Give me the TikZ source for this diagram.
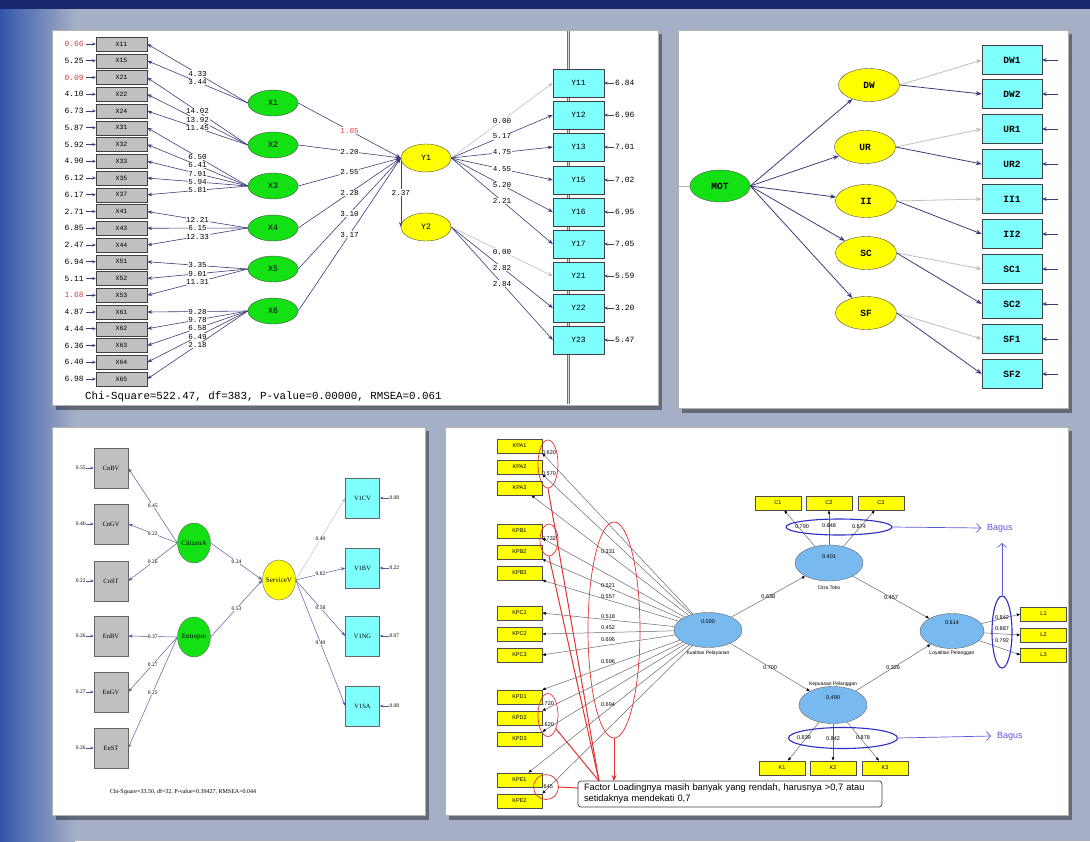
\documentclass[tikz,border=0pt]{standalone}
\usepackage{fontspec}
\setmainfont{Liberation Serif}
\newfontfamily\lmono{Liberation Mono}
\newfontfamily\larial{Liberation Sans}
\usetikzlibrary{shapes.geometric,arrows.meta,calc}
\pgfdeclarelayer{back}
\pgfdeclarelayer{edges}
\pgfsetlayers{back,edges,main}
\definecolor{bgc}{RGB}{165,175,198}
\definecolor{bgblue}{RGB}{50,85,170}
\definecolor{topnavy}{RGB}{25,40,110}
\definecolor{navy}{RGB}{30,30,110}
\definecolor{lisline}{RGB}{60,60,125}
\definecolor{bline}{RGB}{90,90,160}
\definecolor{lisgreen}{RGB}{20,225,20}
\definecolor{lisyellow}{RGB}{255,255,0}
\definecolor{liscyan}{RGB}{128,255,255}
\definecolor{lisgray}{RGB}{192,192,192}
\definecolor{lisred}{RGB}{215,60,60}
\definecolor{plsblue}{RGB}{120,185,240}
\definecolor{plsline}{RGB}{105,105,105}
\definecolor{annred}{RGB}{225,50,50}
\definecolor{annblue}{RGB}{45,45,200}
\definecolor{bagus}{RGB}{90,90,215}
\tikzset{
  panel/.style={fill=white, draw=black!30, line width=0.4pt},
  shadowbox/.style={fill=black, opacity=0.4},
  xbox/.style={draw=black!75, fill=lisgray, minimum width=51pt, minimum height=14pt, inner sep=0pt, font=\lmono\fontsize{6.5}{7}\selectfont},
  ybox/.style={draw=black!75, fill=liscyan, minimum width=51pt, minimum height=28pt, inner sep=0pt, font=\lmono\fontsize{8}{9}\selectfont},
  lat/.style={ellipse, draw=black!70, minimum width=50pt, minimum height=26pt, inner sep=0pt, font=\lmono\fontsize{8.3}{9}\selectfont},
  glat/.style={lat, fill=lisgreen},
  ylat/.style={lat, fill=lisyellow, minimum height=28pt},
  lval/.style={font=\lmono\fontsize{7.6}{8}\selectfont, fill=white, inner sep=0.6pt},
  errv/.style={font=\lmono\fontsize{8}{8}\selectfont, inner sep=0pt},
  lisarr/.style={draw=lisline, line width=0.6pt, -{Stealth[length=5pt,width=3.6pt]}},
  fixarr/.style={draw=black!25, line width=0.6pt, -{Stealth[length=5pt,width=3.6pt]}},
  mbox/.style={draw=black!75, fill=liscyan, minimum width=60pt, minimum height=29pt, inner sep=0pt, font=\lmono\bfseries\fontsize{9.5}{10}\selectfont},
  mlat/.style={ellipse, draw=black!70, minimum width=61pt, minimum height=33pt, inner sep=0pt, font=\lmono\bfseries\fontsize{9.5}{10}\selectfont},
  marr/.style={draw=lisline, line width=0.8pt, -{Stealth[length=6pt,width=4.5pt]}},
  mfix/.style={draw=black!25, line width=0.8pt, -{Stealth[length=6pt,width=4.5pt]}},
  bbox/.style={draw=black!60, fill=lisgray, minimum width=34pt, minimum height=40pt, inner sep=0pt, font=\fontsize{6.5}{7}\selectfont},
  blat/.style={ellipse, draw=black!60, minimum width=33pt, minimum height=40pt, inner sep=0pt, font=\fontsize{7}{7}\selectfont},
  bval/.style={font=\fontsize{5.5}{6}\selectfont, fill=white, inner sep=0.3pt},
  barr/.style={draw=bline, line width=0.5pt, -{Stealth[length=4.5pt,width=3.2pt]}},
  bfix/.style={draw=black!25, line width=0.5pt, -{Stealth[length=4.5pt,width=3.2pt]}},
  pbox/.style={draw=black!70, fill=lisyellow, minimum width=45pt, minimum height=14pt, inner sep=0pt, font=\larial\fontsize{5.5}{6}\selectfont},
  plat/.style={ellipse, draw=black!60, fill=plsblue, minimum width=68pt, minimum height=35pt, inner sep=0pt},
  parr/.style={draw=plsline, line width=0.5pt, -{Latex[length=3.5pt,width=3pt,color=black]}},
  ptxt/.style={font=\larial\fontsize{5.5}{6}\selectfont, inner sep=0pt},
  pname/.style={font=\larial\fontsize{5}{6}\selectfont, inner sep=0pt},
  redell/.style={ellipse, draw=annred, line width=0.7pt, inner sep=0pt},
  redline/.style={draw=annred, line width=1pt},
  blueell/.style={ellipse, draw=annblue, line width=1.1pt, inner sep=0pt},
  bluearr/.style={draw=bagus, line width=0.7pt, -{Straight Barb[length=4pt,width=9pt]}},
  bagustxt/.style={text=bagus, font=\larial\fontsize{9}{10}\selectfont, inner sep=0pt}
}
\begin{document}
\begin{tikzpicture}[x=1pt,y=-1pt]
\useasboundingbox (0,0) rectangle (1090,841);
\begin{pgfonlayer}{back}
\fill[bgc] (0,0) rectangle (1090,841);
\shade[left color=bgblue, right color=bgc] (0,0) rectangle (75,841);
\fill[topnavy] (0,0) rectangle (1090,9);
% panels
\fill[shadowbox] (56,34) rectangle (662,410);
\fill[panel] (52,30) rectangle (658,405);
\fill[shadowbox] (682,34) rectangle (1072,413);
\fill[panel] (678,30) rectangle (1068,408);
\fill[shadowbox] (56,431) rectangle (429,820);
\fill[panel] (52,427) rectangle (425,815);
\fill[shadowbox] (449,431) rectangle (1072,820);
\fill[panel] (445,427) rectangle (1068,815);
% vertical divider in LISREL panel
\coordinate (vt) at (568,31);
\coordinate (vb) at (568,404);
\draw[black!55, line width=3pt] (vt) -- (vb);
\draw[black!15, line width=1pt] (vt) -- (vb);
\end{pgfonlayer}

% ================= Panel 1 (LISREL) =================
\foreach \lab/\err/\c [count=\i from 0] in {X11/0.66/lisred, X15/5.25/black, X21/0.09/lisred, X22/4.10/black, X24/6.73/black, X31/5.87/black, X32/5.92/black, X33/4.90/black, X35/6.12/black, X37/6.17/black, X41/2.71/black, X43/6.85/black, X44/2.47/black, X51/6.94/black, X52/5.11/black, X53/1.68/lisred, X61/4.87/black, X62/4.44/black, X63/6.36/black, X64/6.40/black, X65/6.98/black}{
  \node[xbox] (xb\i) at (121.5,{44+16.75*\i}) {\lab};
  \node[errv, text=\c, anchor=east] (xe\i) at (84,{44+16.75*\i}) {\err};
  \draw[lisarr, -{Stealth[length=3.5pt,width=3pt]}] ([xshift=2pt]xe\i.east) -- (xb\i.west);
}
\foreach \n/\yy in {1/103,2/145,3/186,4/228,5/269,6/311}
  \node[glat] (lx\n) at (273,\yy) {X\n};
\node[ylat] (y1) at (426,158) {Y1};
\node[ylat] (y2) at (426,227) {Y2};
\foreach \lab/\yy/\err [count=\i] in {Y11/83/6.84, Y12/115/6.96, Y13/147/7.01, Y15/180/7.02, Y16/212/6.95, Y17/244/7.05, Y21/276/5.59, Y22/308/3.20, Y23/340/5.47}{
  \node[ybox] (yb\i) at (578.5,\yy) {\lab};
  \node[errv, anchor=west] (ye\i) at (615,\yy) {\err};
  \draw[lisarr, -{Stealth[length=3.5pt,width=3pt]}] ([xshift=-1pt]ye\i.west) -- (yb\i.east);
}
\begin{pgfonlayer}{edges}
\foreach \i/\n/\v in {0/1/4.33,1/1/3.44,2/2/14.02,3/2/13.92,4/2/11.45,5/3/6.50,6/3/6.41,7/3/7.91,8/3/5.94,9/3/5.81,10/4/12.21,11/4/6.15,12/4/12.33,13/5/3.35,14/5/9.01,15/5/11.31,16/6/9.28,17/6/9.78,18/6/6.58,19/6/6.49,20/6/2.18}
  \draw[lisarr] (lx\n.west) -- node[lval] (ll\i) {\v} (xb\i.east);
\foreach \n/\v/\c in {1/1.65/lisred,2/2.20/black,3/2.55/black,4/2.28/black,5/3.10/black,6/3.17/black}
  \draw[lisarr] (lx\n.east) -- node[lval,text=\c] (gm\n) {\v} (y1.west);
\draw[lisarr] (y1.west) -- node[lval] (g12) {2.37} (y2.west);
\draw[fixarr] (y1.east) -- node[lval] (ym1) {0.00} (yb1.west);
\foreach \i/\v in {2/5.17,3/4.75,4/4.55,5/5.20,6/2.21}
  \draw[lisarr] (y1.east) -- node[lval] (ym\i) {\v} (yb\i.west);
\draw[fixarr] (y2.east) -- node[lval] (ym7) {0.00} (yb7.west);
\foreach \i/\v in {8/2.82,9/2.84}
  \draw[lisarr] (y2.east) -- node[lval] (ym\i) {\v} (yb\i.west);
\end{pgfonlayer}
\node[font=\lmono\fontsize{10.8}{12}\selectfont, anchor=west, inner sep=0pt] (chi1) at (85,397) {Chi-Square=522.47, df=383, P-value=0.00000, RMSEA=0.061};

% ================= Panel 2 (MOT) =================
\node[mlat, fill=lisgreen, minimum width=60pt, minimum height=32pt] (mot) at (720,186) {MOT};
\foreach \nm/\lab/\xx/\yy in {dw/DW/869/85, ur/UR/865/147, ii/II/866/201, sc/SC/866/253, sf/SF/866/313}
  \node[mlat, fill=lisyellow] (\nm) at (\xx,\yy) {\lab};
\foreach \nm/\lab/\yy in {dw1/DW1/60, dw2/DW2/94, ur1/UR1/129, ur2/UR2/164, ii1/II1/199, ii2/II2/234, sc1/SC1/269, sc2/SC2/304, sf1/SF1/339, sf2/SF2/374}{
  \node[mbox] (\nm) at (1012,\yy) {\lab};
  \coordinate (\nm err) at (1058,\yy);
  \draw[marr, -{Stealth[length=4.5pt,width=4pt]}] (\nm err) -- (\nm.east);
}
\coordinate (motin) at (679,186);
\begin{pgfonlayer}{edges}
\draw[black!30, line width=0.6pt] (motin) -- (mot.west);
\foreach \nm in {dw,ur,ii,sc,sf}
  \draw[marr] (mot.east) -- (\nm);
\foreach \a/\b/\c in {dw/dw1/dw2, ur/ur1/ur2, ii/ii1/ii2, sc/sc1/sc2, sf/sf1/sf2}{
  \draw[mfix] (\a.east) -- (\b.west);
  \draw[marr] (\a.east) -- (\c.west);
}
\end{pgfonlayer}

% ================= Panel 3 (ServiceV) =================
\foreach \nm/\lab/\yy/\err in {cnbv/CnBV/468/0.55, cngv/CnGV/524/0.40, cnst/CnST/581/0.22, enbv/EnBV/636/0.26, engv/EnGV/692/0.27, enst/EnST/748/0.26}{
  \node[bbox] (\nm) at (111,\yy) {\lab};
  \node[bval, anchor=east, fill=none] (\nm err) at (86,\yy) {\err};
  \draw[barr, -{Stealth[length=3.5pt,width=3pt]}] (\nm err.east) -- (\nm.west);
}
\foreach \nm/\lab/\yy/\err in {v1cv/V1CV/498/0.08, v1bv/V1BV/568/0.22, v1ng/V1NG/636/0.07, v1sa/V1SA/706/0.08}{
  \node[bbox, fill=liscyan] (\nm) at (362.5,\yy) {\lab};
  \node[bval, anchor=west, fill=none] (\nm err) at (389,\yy) {\err};
  \draw[barr, -{Stealth[length=3.5pt,width=3pt]}] (\nm err.west) -- (\nm.east);
}
\node[blat, fill=lisgreen] (cit) at (194,543) {\makebox[0pt]{CitizenA}};
\node[blat, fill=lisgreen] (ent) at (194,637) {\makebox[0pt]{Entrepre}};
\node[blat, fill=lisyellow] (srv) at (279,580) {\makebox[0pt]{ServiceV}};
\begin{pgfonlayer}{edges}
\foreach \t/\v in {cnbv/0.45, cngv/0.22, cnst/0.26}
  \draw[barr] (cit.west) -- node[bval] (l\t) {\v} (\t.east);
\foreach \t/\v in {enbv/0.37, engv/0.27, enst/0.25}
  \draw[barr] (ent.west) -- node[bval] (l\t) {\v} (\t.east);
\draw[barr] (cit.east) -- node[bval] (lcs) {0.24} (srv.west);
\draw[barr] (ent.east) -- node[bval] (les) {0.53} (srv.west);
\draw[bfix] (srv.east) -- node[bval] (lv1cv) {0.40} (v1cv.west);
\foreach \t/\v in {v1bv/0.82, v1ng/0.58, v1sa/0.40}
  \draw[barr] (srv.east) -- node[bval] (l\t) {\v} (\t.west);
\end{pgfonlayer}
\node[font=\fontsize{6}{7}\selectfont, inner sep=0pt] (chi2) at (183,792) {Chi-Square=33.50, df=32, P-value=0.39427, RMSEA=0.044};

% ================= Panel 4 (SmartPLS) =================
\foreach \nm/\lab/\yy in {kpa1/KPA1/446, kpa2/KPA2/467, kpa3/KPA3/488, kpb1/KPB1/531, kpb2/KPB2/552, kpb3/KPB3/573, kpc1/KPC1/613, kpc2/KPC2/634, kpc3/KPC3/655, kpd1/KPD1/697, kpd2/KPD2/718, kpd3/KPD3/739, kpe1/KPE1/780, kpe2/KPE2/801}
  \node[pbox] (\nm) at (519.5,\yy) {\lab};
\foreach \nm/\lab/\xx/\yy in {c1/C1/778/503, c2/C2/829/503, c3/C3/881/503, k1/K1/782/768, k2/K2/833/768, k3/K3/885/768, l1/L1/1043.5/614, l2/L2/1043.5/635, l3/L3/1043.5/655}
  \node[pbox, minimum width=46pt] (\nm) at (\xx,\yy) {\lab};
\node[plat] (kp) at (708,630) {};
\node[plat, minimum height=36pt] (ct) at (829,563) {};
\node[plat, minimum width=64pt] (loy) at (952,631) {};
\node[plat, minimum height=37pt] (kep) at (833,705) {};
\node[ptxt] (kpv) at (708,622) {0.000};
\node[ptxt] (ctv) at (829,557) {0.401};
\node[ptxt] (loyv) at (952,623) {0.614};
\node[ptxt] (kepv) at (833,698) {0.490};
\node[pname] (kpn) at (708,653) {Kualitas Pelayanan};
\node[pname] (ctn) at (829,588) {Citra Toko};
\node[pname] (loyn) at (952,653) {Loyalitas Pelanggan};
\node[pname] (kepn) at (833,684) {Kepuasan Pelanggan};
\begin{pgfonlayer}{edges}
\foreach \t/\a/\s in {kpa1/south east/0, kpa2/south east/0, kpa3/south east/-11, kpb1/south east/0, kpb2/south east/0, kpb3/south east/0, kpc1/east/0, kpc2/east/0, kpc3/east/0, kpd1/north east/0, kpd2/north east/0, kpd3/north east/0, kpe1/north east/-14, kpe2/north east/0}
  \draw[parr] (kp) -- ([xshift=\s pt]\t.\a);
\foreach \v/\xx/\yy [count=\i] in {0.620/549/453, 0.570/549/474, 0.331/608/552, 0.732/549/539, 0.521/608/586, 0.557/608/597, 0.518/608/617, 0.452/608/628, 0.696/608/640, 0.596/608/662, 0.694/608/705, 0.720/547/704, 0.620/547/725, 0.645/546/787}
  \node[ptxt] (pl\i) at (\xx,\yy) {\v};
\draw[parr] (kp) -- node[ptxt] (s1) {0.638} (ct);
\draw[parr] (ct) -- node[ptxt] (s2) {0.457} (loy);
\draw[parr] (kp) -- node[ptxt] (s3) {0.700} (kep);
\draw[parr] (kep) -- node[ptxt] (s4) {0.326} (loy);
\foreach \t in {c1,c2,c3} \draw[parr] (ct) -- (\t);
\foreach \t in {k1,k2,k3} \draw[parr] (kep) -- (\t);
\foreach \t in {l1,l2,l3} \draw[parr] (loy) -- (\t.west);
\end{pgfonlayer}
\foreach \v/\xx/\yy [count=\i] in {0.790/802/527, 0.848/829/526, 0.874/859/527, 0.839/804/738, 0.842/833/739, 0.878/863/738, 0.842/1002/618, 0.887/1002/629, 0.792/1002/641}
  \node[ptxt] (pc\i) at (\xx,\yy) {\v};

% red annotations
\node[redell, minimum width=20pt, minimum height=48pt] (ra1) at (548,464) {};
\node[redell, minimum width=18pt, minimum height=32pt] (ra2) at (549,540) {};
\node[redell, minimum width=52pt, minimum height=216pt] (ra3) at (614,630) {};
\node[redell, minimum width=20pt, minimum height=43pt] (ra4) at (548,715) {};
\node[redell, minimum width=25pt, minimum height=25pt] (ra5) at (546,787) {};
\node[draw=black!75, fill=white, rounded corners=3pt, line width=0.7pt, minimum width=304pt, minimum height=26pt, text width=292pt, align=left, inner xsep=6pt, inner ysep=2pt, font=\larial\fontsize{9.3}{11}\selectfont] (note) at (730,794) {Factor Loadingnya masih banyak yang rendah, harusnya >0,7 atau\\setidaknya mendekati 0,7};
\coordinate (n1) at (599,781);
\coordinate (n2) at (578,788);
\coordinate (n3) at (614,781);
\draw[redline] (ra1.south) -- (n1);
\draw[redline] (ra2.south) -- (n1);
\draw[redline] (ra4.-60) -- (n1);
\draw[redline] (ra5.east) -- (n2);
\draw[redline, -{Stealth[length=6pt,width=5pt]}] (ra3.south) -- (n3);

% blue annotations
\node[blueell, minimum width=106pt, minimum height=16pt] (ba1) at (839,527) {};
\node[blueell, minimum width=109pt, minimum height=21pt] (ba2) at (843,738) {};
\node[blueell, minimum width=20pt, minimum height=72pt] (ba3) at (1002,632) {};
\node[bagustxt, anchor=west] (bg1) at (987,528) {Bagus};
\node[bagustxt, anchor=west] (bg2) at (997,736) {Bagus};
\coordinate (bu) at (1002,543);
\draw[bluearr] (ba1.east) -- ([xshift=-6pt]bg1.west);
\draw[bluearr] (ba2.east) -- ([xshift=-6pt]bg2.west);
\draw[bluearr] (ba3.north) -- (bu);
\end{tikzpicture}
\end{document}
